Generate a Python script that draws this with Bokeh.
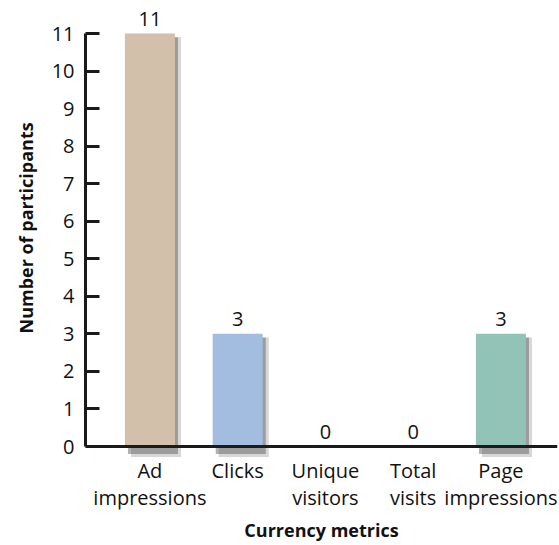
from bokeh.plotting import figure
from bokeh.models import Range1d, FixedTicker, Span, ColumnDataSource, Title
from bokeh.core.properties import value
from bokeh.embed import file_html
from bokeh.resources import INLINE

categories = ["Ad\nimpressions", "Clicks", "Unique\nvisitors", "Total\nvisits", "Page\nimpressions"]
values = [11, 3, 0, 0, 3]
bar_colors = ["#d2c0aa", "#a3bde0", "#b0c4d0", "#b0c4d0", "#93c2b6"]
y_ticks = list(range(0, 12))

FONT = "Open Sans"

xs = list(range(len(categories)))
src = ColumnDataSource(dict(
    x=xs,
    top=values,
    label=[str(v) for v in values],
    cat=categories,
    zero=[0] * len(xs),
))

p = figure(width=559, height=545, output_backend="svg", toolbar_location=None,
           x_range=Range1d(-0.734, 4.645), y_range=Range1d(-1.678, 11.826),
           min_border_left=81, min_border_right=2, min_border_top=2, min_border_bottom=36)
p.outline_line_color = None
p.grid.visible = False
p.background_fill_color = "white"
p.border_fill_color = "white"

# shadow + bars
nz = [i for i, v in enumerate(values) if v > 0]
shadow_src = ColumnDataSource(dict(
    xs=[xs[i] + 0.07 for i in nz],
    xs2=[xs[i] + 0.035 for i in nz],
    top=[values[i] - 0.1 for i in nz],
))
p.vbar(x="xs", top="top", bottom=-0.28, width=0.57, source=shadow_src,
       fill_color="#7a7a7a", fill_alpha=0.3, line_color=None)
p.vbar(x="xs2", top="top", bottom=-0.2, width=0.57, source=shadow_src,
       fill_color="#555555", fill_alpha=0.45, line_color=None)
bar_src = ColumnDataSource(dict(
    x=[xs[i] for i in nz], top=[values[i] for i in nz], color=[bar_colors[i] for i in nz]))
p.vbar(x="x", top="top", bottom=0, width=0.57, source=bar_src,
       fill_color="color", line_color=None)

# value labels
p.text(x="x", y="top", text="label", source=src, text_align="center",
       text_baseline="middle", y_offset=-14.5, text_font_size="20px",
       text_font=value(FONT), text_color="#111111")

# category labels
p.text(x="x", y="zero", text="cat", source=src, text_align="center",
       text_baseline="top", y_offset=10, text_font_size="20px",
       text_line_height=1.0,
       text_font=value(FONT), text_color="#111111")

p.add_layout(Span(location=0, dimension="width", line_color="#1a1a1a", line_width=3))

# y axis
ya = p.yaxis[0]
ya.ticker = FixedTicker(ticks=y_ticks)
ya.bounds = (0, 11)
ya.axis_line_width = 3
ya.axis_line_color = "#1a1a1a"
ya.major_tick_line_width = 3
ya.major_tick_line_color = "#1a1a1a"
ya.major_tick_in = 14
ya.major_tick_out = 0
ya.minor_tick_line_color = None
ya.major_label_standoff = 11
ya.major_label_text_font = FONT
ya.major_label_text_font_size = "20px"
ya.major_label_text_color = "#111111"

# y axis title as a left-side title, shifted up like the reference
ytitle = Title(text="Number of participants", align="left", offset=176,
               vertical_align="bottom", standoff=22,
               text_font=FONT, text_font_style="bold", text_font_size="18px",
               text_color="#111111")
p.add_layout(ytitle, "left")

# x axis: only the title
xa = p.xaxis[0]
xa.ticker = FixedTicker(ticks=[])
xa.axis_line_color = None
xa.major_tick_line_color = None
xa.minor_tick_line_color = None
xa.major_tick_in = 0
xa.major_tick_out = 0
xa.major_label_standoff = 0
xa.axis_label = "Currency metrics"
xa.axis_label_text_font = FONT
xa.axis_label_text_font_style = "bold"
xa.axis_label_text_font_size = "18px"
xa.axis_label_text_color = "#111111"
xa.axis_label_standoff = 8

open("out.html", "w").write(file_html(p, INLINE))
